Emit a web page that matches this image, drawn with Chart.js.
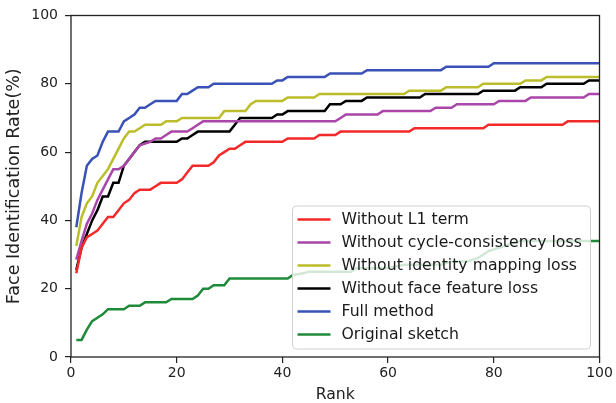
<!DOCTYPE html>
<html>
<head>
<meta charset="utf-8">
<script src="https://cdn.jsdelivr.net/npm/chart.js@4"></script>
<style>
  html, body { margin: 0; padding: 0; background: #fff; }
  #wrap { width: 616px; height: 403px; }
</style>
</head>
<body>
<div id="wrap"><canvas id="rankChart"></canvas></div>
<script>
// Values (rank where the value changes, and the rate there)
const redRanks = [1,2,3,4,5,6,7,8,9,10,11,12,13,15,16,17,20,21,22,23,26,27,28,29,30,31,32,33,40,41,46,47,50,51,64,65,78,79,93,94,100];
const redRates = [24.5,32,35,36,37,39,41,41,43,45,46,48,49,49,50,51,51,52,54,56,56,57,59,60,61,61,62,63,63,64,64,65,65,66,66,67,67,68,68,69,69];

const purpleRanks = [1,2,3,4,5,6,7,8,9,10,11,12,13,14,15,16,17,18,19,22,23,24,25,50,51,52,58,59,68,69,72,73,80,81,86,87,97,98,100];
const purpleRates = [28.5,34,39,42,46,49,52,55,55,56,58,60,62,62.5,63,64,64,65,66,66,67,68,69,69,70,71,71,72,72,73,73,74,74,75,75,76,76,77,77];

const yellowRanks = [1,2,3,4,5,6,7,8,9,10,11,12,13,14,17,18,20,21,28,29,33,34,35,40,41,46,47,63,64,70,71,77,78,85,86,89,90,100];
const yellowRates = [32.5,41,45,47,51,53,55,58,61,64,66,66,67,68,68,69,69,70,70,72,72,74,75,75,76,76,77,77,78,78,79,79,80,80,81,81,82,82];

const blackRanks = [1,2,3,4,5,6,7,8,9,10,11,12,13,14,20,21,22,23,24,30,31,32,38,39,40,41,48,49,51,52,55,56,66,67,77,78,84,85,89,90,97,98,100];
const blackRates = [25.5,32,36,40,43,47,47,51,51,56,58,60,62,63,63,64,64,65,66,66,68,70,70,71,71,72,72,74,74,75,75,76,76,77,77,78,78,79,79,80,80,81,81];

const blueRanks = [1,2,3,4,5,6,7,9,10,11,12,13,14,15,16,20,21,22,23,24,26,27,38,39,40,41,48,49,55,56,70,71,79,80,100];
const blueRates = [38,48,56,58,59,63,66,66,69,70,71,73,73,74,75,75,77,77,78,79,79,80,80,81,81,82,82,83,83,84,84,85,85,86,86];

const greenRanks = [1,2,3,4,5,6,7,10,11,13,14,18,19,23,24,25,26,27,29,30,41,42,44,45,53,54,60,63,70,72,75,77,79,81,83,85,100];
const greenRates = [5,5,8,10.5,11.5,12.5,14,14,15,15,16,16,17,17,18,20,20,21,21,23,23,24,24.5,25,25,26,26,27,27,28,28,29,31,32,33,34,34];

const seriesNames = ['Without L1 term', 'Without cycle-consistency loss', 'Without identity mapping loss',
                     'Without face feature loss', 'Full method', 'Original sketch'];
const seriesColors = ['#f42a2a', '#aa45aa', '#bcbd2a', '#000000', '#3a52b6', '#1f8a3a'];

const xTicks = [0, 20, 40, 60, 80, 100];
const yTicks = [0, 20, 40, 60, 80, 100];

function toPoints(ranks, rates) {
    return ranks.map((r, i) => ({ x: r, y: rates[i] }));
}

const allSeries = [
    toPoints(redRanks, redRates),
    toPoints(purpleRanks, purpleRates),
    toPoints(yellowRanks, yellowRates),
    toPoints(blackRanks, blackRates),
    toPoints(blueRanks, blueRates),
    toPoints(greenRanks, greenRates)
];

const FONT = 'DejaVu Sans';

// full box around the plot, like matplotlib spines
const frameBox = {
    id: 'frameBox',
    afterDraw(chart) {
        const { ctx, chartArea: a } = chart;
        ctx.save();
        ctx.strokeStyle = '#222';
        ctx.lineWidth = 1.3;
        ctx.strokeRect(a.left, a.top, a.right - a.left, a.bottom - a.top);
        ctx.restore();
    }
};

// legend drawn over the lines, lower right, semi-transparent box
const boxLegend = {
    id: 'boxLegend',
    afterDatasetsDraw(chart) {
        const ctx = chart.ctx;
        const x0 = 292.5, y0 = 206, w = 298, h = 143, rowH = 23;
        ctx.save();
        ctx.beginPath();
        ctx.roundRect(x0, y0, w, h, 4);
        ctx.fillStyle = 'rgba(255,255,255,0.8)';
        ctx.fill();
        ctx.strokeStyle = '#d0d0d0';
        ctx.lineWidth = 1;
        ctx.stroke();
        ctx.font = '15.7px "' + FONT + '"';
        ctx.textBaseline = 'middle';
        chart.data.datasets.forEach((ds, i) => {
            const y = y0 + 13.5 + i * rowH;
            ctx.beginPath();
            ctx.moveTo(x0 + 5, y);
            ctx.lineTo(x0 + 38, y);
            ctx.strokeStyle = ds.borderColor;
            ctx.lineWidth = 2.5;
            ctx.stroke();
            ctx.fillStyle = '#1a1a1a';
            ctx.fillText(ds.label, x0 + 49, y + 0.5);
        });
        ctx.restore();
    }
};

const ctx = document.getElementById('rankChart').getContext('2d');

new Chart(ctx, {
    type: 'line',
    data: {
        datasets: allSeries.map((pts, i) => ({
            label: seriesNames[i],
            data: pts,
            borderColor: seriesColors[i],
            backgroundColor: seriesColors[i],
            borderWidth: 2.5,
            pointRadius: 0,
            tension: 0,
            fill: false
        }))
    },
    options: {
        responsive: true,
        maintainAspectRatio: false,
        animation: false,
        layout: { padding: { left: 0, right: 16.5, top: 15.5, bottom: 0 } },
        plugins: {
            legend: { display: false },
            tooltip: { enabled: false }
        },
        scales: {
            x: {
                type: 'linear',
                min: 0,
                max: 100,
                afterBuildTicks: (s) => { s.ticks = xTicks.map(v => ({ value: v })); },
                afterFit: (s) => { s.height = 46; },
                grid: { drawOnChartArea: false, drawTicks: true, tickLength: 6, color: '#222', lineWidth: 1.2 },
                border: { display: false },
                ticks: { color: '#222', padding: 2, font: { family: FONT, size: 14 } },
                title: { display: true, text: 'Rank', color: '#222', padding: { top: 0, bottom: 0 },
                         font: { family: FONT, size: 15.7, lineHeight: 1.0 } }
            },
            y: {
                min: 0,
                max: 100,
                afterBuildTicks: (s) => { s.ticks = yTicks.map(v => ({ value: v })); },
                afterFit: (s) => { s.width = 71; },
                grid: { drawOnChartArea: false, drawTicks: true, tickLength: 6, color: '#222', lineWidth: 1.2 },
                border: { display: false },
                ticks: { color: '#222', padding: 7, font: { family: FONT, size: 14 } },
                title: { display: true, text: 'Face Identification Rate(%)', color: '#222',
                         padding: { top: 5, bottom: 0 }, font: { family: FONT, size: 17.5, lineHeight: 1.1 } }
            }
        }
    },
    plugins: [frameBox, boxLegend]
});
</script>
</body>
</html>
